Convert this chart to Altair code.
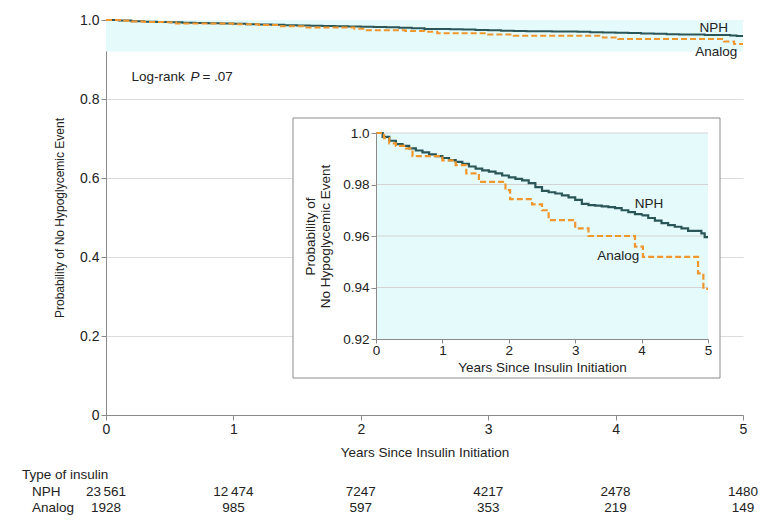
import altair as alt
import pandas as pd

FONT = "Liberation Sans, Arial, sans-serif"
TXT = "#222222"

# Kaplan-Meier curves
nph_t = [0, 0.1, 0.2, 0.3, 0.4, 0.5, 0.6, 0.7, 0.8, 0.9, 1.0, 1.1, 1.2, 1.3, 1.4, 1.5,
         1.6, 1.7, 1.8, 1.9, 2.0, 2.1, 2.2, 2.3, 2.4, 2.5, 2.6, 2.7, 2.8, 2.9, 3.0,
         3.1, 3.2, 3.3, 3.4, 3.5, 3.6, 3.7, 3.8, 3.9, 4.0, 4.1, 4.2, 4.3, 4.4, 4.5,
         4.6, 4.7, 4.8, 4.9, 4.95, 5.0]
nph_s = [1.0, 0.9985, 0.997, 0.9957, 0.995, 0.994, 0.9932, 0.9925, 0.9917, 0.991,
         0.9903, 0.9895, 0.9888, 0.988, 0.987, 0.9862, 0.9855, 0.985, 0.9843, 0.9835,
         0.9828, 0.9822, 0.9816, 0.9805, 0.979, 0.9775, 0.977, 0.9765, 0.9758, 0.975,
         0.974, 0.9725, 0.972, 0.9718, 0.9715, 0.9712, 0.9708, 0.970, 0.9693, 0.9685,
         0.968, 0.967, 0.966, 0.965, 0.9642, 0.9636, 0.963, 0.962, 0.962, 0.961,
         0.9596, 0.9596]
analog_t = [0, 0.12, 0.2, 0.3, 0.45, 0.55, 1.0, 1.2, 1.36, 1.55, 1.95, 2.02, 2.35,
            2.5, 2.6, 3.0, 3.2, 3.9, 4.02, 4.85, 4.93, 5.0]
analog_s = [1.0, 0.998, 0.996, 0.995, 0.994, 0.991, 0.9894, 0.9875, 0.9843, 0.981,
            0.9778, 0.9743, 0.9723, 0.970, 0.9662, 0.963, 0.960, 0.9559, 0.9519,
            0.9455, 0.9395, 0.9395]

# Numbers at risk
risk_years = [0, 1, 2, 3, 4, 5]
nph_risk = ["23\u2009561", "12\u2009474", "7247", "4217", "2478", "1480"]
analog_risk = ["1928", "985", "597", "353", "219", "149"]

groups = ["NPH", "Analog"]
colors = ["#2b5657", "#f0962e"]

curves = pd.concat([
    pd.DataFrame({"t": nph_t, "s": nph_s, "g": "NPH"}),
    pd.DataFrame({"t": analog_t, "s": analog_s, "g": "Analog"}),
])


def pad_to(ref, s):
    nd_ref = sum(c.isdigit() for c in ref)
    nd = sum(c.isdigit() for c in s)
    p = "\u2007" * (nd_ref - nd)
    if "\u2009" in ref and "\u2009" not in s:
        p += "\u2009"
    return p + s


risk = pd.DataFrame({
    "t": risk_years,
    "nph": nph_risk,
    "analog": [pad_to(a, b) for a, b in zip(nph_risk, analog_risk)],
})

W, H = 637, 395

# ---------------- main panel ----------------
mx = alt.Scale(domain=[0, 5], nice=False, zero=False)
my = alt.Scale(domain=[0, 1], nice=False, zero=False)
color_scale = alt.Scale(domain=groups, range=colors)
dash_scale = alt.Scale(domain=groups, range=[[1, 0], [6, 3]])

band = pd.DataFrame({"x0": [0], "x1": [5], "y0": [0.92], "y1": [1.0]})

main_band = alt.Chart(band).mark_rect(color="#e4fafb").encode(
    x=alt.X("x0:Q", scale=mx, axis=alt.Axis(
        values=risk_years, format="d", title="Years Since Insulin Initiation",
        labelFontSize=14, titleFontSize=13.5, titleFontWeight="normal",
        labelFont=FONT, titleFont=FONT, labelColor=TXT, titleColor=TXT,
        domainColor="#8a8a8a", tickColor="#8a8a8a", tickSize=5, labelPadding=2,
        titlePadding=9, labelFlush=False, grid=False)),
    x2="x1:Q",
    y=alt.Y("y0:Q", scale=my, axis=alt.Axis(
        values=[0, 0.2, 0.4, 0.6, 0.8, 1.0],
        labelExpr="datum.value == 0 ? '0' : format(datum.value, '.1f')",
        title="Probability of No Hypoglycemic Event",
        labelFontSize=14, titleFontSize=12, titleFontWeight="normal",
        labelFont=FONT, titleFont=FONT, labelColor=TXT, titleColor=TXT,
        domainColor="#8a8a8a", tickColor="#8a8a8a", tickSize=5, labelPadding=2,
        titlePadding=13, grid=True, gridColor="#dcdcdc", labelFlush=False)),
    y2="y1:Q",
)

main_lines = alt.Chart(curves).mark_line(interpolate="step-after", strokeWidth=2).encode(
    x=alt.X("t:Q", scale=mx),
    y=alt.Y("s:Q", scale=my),
    color=alt.Color("g:N", scale=color_scale, legend=None),
    strokeDash=alt.StrokeDash("g:N", scale=dash_scale, legend=None),
    detail="g:N",
)

main_lbl = pd.DataFrame({"t": [4.77, 4.79], "s": [0.98, 0.918], "label": ["NPH", "Analog"]})
main_labels = alt.Chart(main_lbl).mark_text(font=FONT, fontSize=13.5, color=TXT).encode(
    x=alt.X("t:Q", scale=mx), y=alt.Y("s:Q", scale=my), text="label:N")

lr = pd.DataFrame({"t": [0.2], "s": [0.855]})
logrank1 = alt.Chart(lr).mark_text(font=FONT, fontSize=13.5, color=TXT, align="left").encode(
    x=alt.X("t:Q", scale=mx), y=alt.Y("s:Q", scale=my), text=alt.value("Log-rank"))
logrank2 = alt.Chart(lr).mark_text(font=FONT, fontSize=13.5, color=TXT, align="left",
                                   fontStyle="italic", dx=59).encode(
    x=alt.X("t:Q", scale=mx), y=alt.Y("s:Q", scale=my), text=alt.value("P"))
logrank3 = alt.Chart(lr).mark_text(font=FONT, fontSize=13.5, color=TXT, align="left",
                                   dx=71).encode(
    x=alt.X("t:Q", scale=mx), y=alt.Y("s:Q", scale=my), text=alt.value("= .07"))

# numbers-at-risk table
head = pd.DataFrame({"label": ["Type of insulin", "NPH", "Analog"],
                     "px": [-84, -74, -74], "py": [455, 472, 488]})
table_head = alt.Chart(head).mark_text(font=FONT, fontSize=13.5, color=TXT, align="left").encode(
    x=alt.X("px:Q", scale=None), y=alt.Y("py:Q", scale=None), text="label:N")
table_nph = alt.Chart(risk).mark_text(font=FONT, fontSize=13.5, color=TXT).encode(
    x=alt.X("t:Q", scale=mx), y=alt.value(472), text="nph:N")
table_analog = alt.Chart(risk).mark_text(font=FONT, fontSize=13.5, color=TXT).encode(
    x=alt.X("t:Q", scale=mx), y=alt.value(488), text="analog:N")

main = alt.layer(main_band, main_lines, main_labels, logrank1, logrank2, logrank3,
                 table_nph, table_analog)

# ---------------- inset panel ----------------
ix = alt.Scale(domain=[0, 5], range=[270, 602], nice=False, zero=False)
iy = alt.Scale(domain=[0.92, 1.0], range=[319, 113], nice=False, zero=False)

box = pd.DataFrame({"bx0": [187], "bx1": [614], "by0": [98], "by1": [358]})
inset_box = alt.Chart(box).mark_rect(fill="white", stroke="#8c8c8c", strokeWidth=1).encode(
    x=alt.X("bx0:Q", scale=None), x2="bx1:Q",
    y=alt.Y("by0:Q", scale=None), y2="by1:Q")

inset_band = alt.Chart(band).mark_rect(color="#e4fafb").encode(
    x=alt.X("x0:Q", scale=ix, axis=alt.Axis(
        orient="bottom", offset=319 - H, values=risk_years, format="d",
        title="Years Since Insulin Initiation", zindex=2,
        labelFontSize=13.5, titleFontSize=13.5, titleFontWeight="normal",
        labelFont=FONT, titleFont=FONT, labelColor=TXT, titleColor=TXT,
        domainColor="#8a8a8a", tickColor="#8a8a8a", tickSize=4, labelPadding=0,
        titlePadding=4, labelFlush=False, grid=False)),
    x2="x1:Q",
    y=alt.Y("y0:Q", scale=iy, axis=alt.Axis(
        orient="left", offset=-270, values=[0.92, 0.94, 0.96, 0.98, 1.0],
        labelExpr="datum.value == 1 ? '1.0' : format(datum.value, '.2f')",
        title=["Probability of", "No Hypoglycemic Event"], zindex=2,
        labelFontSize=13.5, titleFontSize=13.5, titleFontWeight="normal",
        labelFont=FONT, titleFont=FONT, labelColor=TXT, titleColor=TXT,
        domainColor="#8a8a8a", tickColor="#8a8a8a", tickSize=5, labelPadding=2,
        titlePadding=10, grid=False, labelFlush=False)),
    y2="y1:Q",
)

grid_vals = pd.DataFrame({"gy": [0.94, 0.96, 0.98, 1.0], "gx0": 0, "gx1": 5})
inset_grid = alt.Chart(grid_vals).mark_rule(color="#d4d4d4", strokeWidth=1).encode(
    x=alt.X("gx0:Q", scale=ix), x2="gx1:Q", y=alt.Y("gy:Q", scale=iy))

inset_lines = alt.Chart(curves).mark_line(interpolate="step-after", strokeWidth=2.2).encode(
    x=alt.X("t:Q", scale=ix),
    y=alt.Y("s:Q", scale=iy),
    color=alt.Color("g:N", scale=color_scale, legend=None),
    strokeDash=alt.StrokeDash("g:N", scale=dash_scale, legend=None),
    detail="g:N",
)

inset_lbl = pd.DataFrame({"t": [4.11, 3.65], "s": [0.9723, 0.9524], "label": ["NPH", "Analog"]})
inset_labels = alt.Chart(inset_lbl).mark_text(font=FONT, fontSize=13.5, color=TXT).encode(
    x=alt.X("t:Q", scale=ix), y=alt.Y("s:Q", scale=iy), text="label:N")

inset = alt.layer(inset_band, inset_grid, inset_lines, inset_labels)

chart = alt.layer(main, table_head, inset_box, inset).resolve_scale(
    x="independent", y="independent"
).properties(
    width=W, height=H,
    autosize=alt.AutoSizeParams(type="none"),
    padding={"left": 98, "top": 12, "right": 29, "bottom": 103},
    background="white",
).configure_view(stroke=None)

chart.save("out.html", embed_options={"renderer": "svg", "actions": False})
